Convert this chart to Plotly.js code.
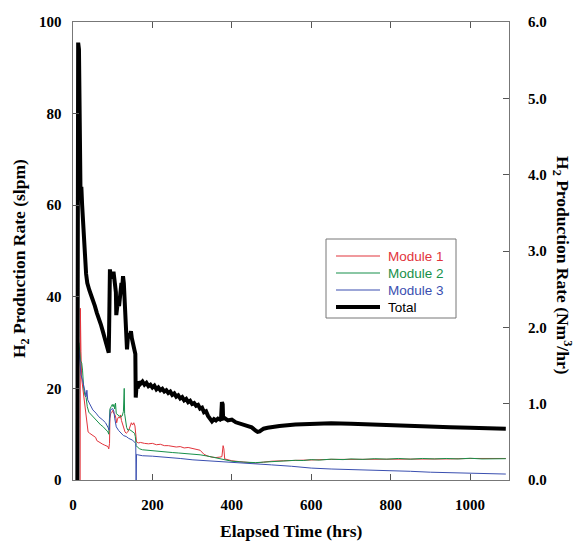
<!DOCTYPE html>
<html>
<head>
<meta charset="utf-8">
<script src="https://cdn.plot.ly/plotly-3.0.1.min.js"></script>
<style>html,body{margin:0;padding:0;background:#fff;}#chart{width:582px;height:542px;}</style>
</head>
<body>
<div id="chart"></div>
<script>
// ---- data ----
const seriesNames = ["Module 1", "Module 2", "Module 3", "Total"];

const hoursM1 = [18,18.5,20,22,24,27,30,33,36,38,42,46,50,54,57,60,63,66,70,75,80,85,88,90,92,93,95,98,100,103,106,108,110,112,115,118,120,122,125,128,131,134,138,141,144,147,150,153,156,158,160,165,170,180,190,200,210,220,230,240,250,260,270,280,290,300,310,320,330,340,350,360,370,375,378,380,382,390,400,420,440,460,480,500,530,560,600,650,700,750,800,850,900,950,1000,1050,1090];
const module1 = [0,37.5,28,22,20.5,18,16,13.5,11.5,10.5,10.2,10,9.8,9.5,9.3,8.6,8.4,8.2,8,7.8,7.6,7.5,7.3,6.8,8,13.5,14.5,14.8,15.2,14.5,14.2,13.5,12.5,13.3,13.8,13.5,14.2,13,12,11,10.5,10.2,10.5,11,12,12.5,12,12.5,11.8,9,8.3,8.1,8.2,8,7.9,8,7.7,7.8,7.5,7.5,7.3,7.2,7.3,7,7.1,6.9,6.8,6.5,5.6,5.2,5,4.9,5,5.1,7.5,6.8,4.6,4.4,4.2,4,3.8,3.7,3.9,4.1,4.2,4.3,4.4,4.5,4.5,4.5,4.6,4.6,4.6,4.6,4.7,4.7,4.7];

const hoursM2 = [15,17,19,22,24,27,30,33,36,40,45,50,55,60,65,70,75,80,85,88,90,91,93,96,99,101,103,105,107,109,112,116,120,124,127,129,130,132,135,138,142,146,150,155,157,159,162,168,175,185,200,215,230,250,265,280,300,320,340,360,380,400,430,460,480,500,520,540,560,580,600,620,650,680,700,730,760,790,820,850,880,910,940,970,1000,1030,1060,1090];
const module2 = [30,28,26,25.5,24,20,18.5,18,16,14.8,14.3,14,13.5,13,12.5,12,11.7,11.2,10.8,10.5,10,13,15.5,16,16.5,16,16.5,15.5,16.8,14.5,14.2,14,13.8,14,15,20,14.5,13,11.5,10.9,11,10.8,10.6,10.2,9.5,7.5,7.2,6.8,6.6,6.5,6.4,6.3,6.2,6,5.9,5.8,5.6,5.5,5.2,4.8,4.5,4.1,3.9,3.8,3.9,4,4.15,4.1,4.3,4.25,4.45,4.35,4.55,4.45,4.6,4.5,4.65,4.55,4.7,4.55,4.7,4.6,4.7,4.6,4.75,4.6,4.7,4.65];

const hoursM3 = [15,17,20,24,28,31,33,35,37,41,46,50,58,65,75,82,88,91,92,94,100,103,105,109,115,121,127,134,140,150,156,158,159,160,163,175,200,218,250,270,302,340,386,430,470,500,550,600,650,700,750,800,850,900,950,1000,1050,1090];
const module3 = [28.5,26,23,21.8,20,18.5,18.2,19.6,17.5,16.8,16,15.3,14.6,13.8,13.1,12.5,11.5,10.9,12.5,15.3,15.6,15,13.5,11.6,10.8,10.2,9.7,9.5,9.1,8.7,8.3,8,0,5.6,5.5,5.3,5.2,5.1,4.9,4.7,4.4,4.2,4,3.7,3.6,3.3,3,2.6,2.4,2.3,2.1,2,1.9,1.7,1.6,1.5,1.4,1.3];

const hoursTotal = [11,12,13,15,16,17,18,19,20,21,23,25,27,29,31,33,36,38,41,45,50,55,60,65,70,75,80,85,88,90,91,92,93,95,98,100,102,104,106,108,109,111,113,116,118,120,122,124,126,128,130,132,134,136,138,140,143,146,148,150,153,155,157,158,160,163,166,170,175,180,185,190,195,200,205,210,215,220,225,230,235,240,245,250,255,260,265,270,275,280,285,290,295,300,305,310,315,320,325,330,335,340,345,350,355,360,365,370,373,375,377,378,382,390,400,410,420,430,440,450,460,465,470,480,490,500,520,560,600,650,700,750,800,850,900,950,1000,1050,1090];
const total = [0,94,95.5,94,88,80,70,62,67,64,60,56,52,50,48,45,43,42,41.5,40.5,39.5,38,36.5,35.5,34,32.5,31,29.5,28.5,27.8,33,42,46,44,45,44,45.5,44,43,41,36,37,39,38,40,41,43,42,44.5,43,38,35,30,28.5,31,32,31,32.5,31,30,29,28,27.5,18,20.5,20,21.5,21,21.5,20.8,21.2,20.5,20.8,20.2,20.6,19.8,20.2,19.6,19.9,19.3,19.6,19,19.3,18.6,18.9,18.2,18.5,17.8,18.1,17.4,17.7,17,17.3,16.6,16.8,16.2,16.4,15.6,15.8,14.8,15,14,13.5,12.8,13.3,13,13.4,13.2,13.6,17,16.5,13.4,13.5,13,13.2,12.6,12.3,12,11.8,11.5,10.8,10.5,10.6,11.2,11.4,11.6,11.8,12.1,12.3,12.4,12.3,12.1,11.9,11.8,11.6,11.5,11.4,11.3,11.2];

const SLPM_TO_NM3H = 0.06; // 1 slpm = 0.06 Nm3/hr

const xTicks = [0,200,400,600,800,1000];
const yTicksLeft = [0,20,40,60,80,100];
const yTicksRight = [0,1,2,3,4,5,6];

// ---- styling / geometry ----
const W = 582, H = 542;
const M = {l: 73, r: 73, t: 22, b: 62};
const plotW = W - M.l - M.r, plotH = H - M.t - M.b;
const px2x = px => (px - M.l) / plotW;
const py2y = py => (H - M.b - py) / plotH;

const colors = ["#e2343c", "#17904a", "#3a4fb0", "#000000"];
const widths = [1, 1, 1, 4];
const serif = "Liberation Serif, Times New Roman, serif";
const sans = "Liberation Sans, Arial, sans-serif";
const tickFont = {family: serif, size: 15, color: "#000", weight: "bold"};
const titleFont = {family: serif, size: 17.5, color: "#000", weight: "bold"};
const NB = "\u00a0";

// legend box (drawn by hand so that its rows match the reference)
const LEG = {left: 326, top: 239, right: 456, lineX0: 336, lineX1: 380, textX: 386, row0: 256, rowStep: 17, pad: 11, fontSize: 13.5};

const traces = [
  {x: hoursM1, y: module1, type: "scatter", mode: "lines", name: seriesNames[0], line: {color: colors[0], width: widths[0]}},
  {x: hoursM2, y: module2, type: "scatter", mode: "lines", name: seriesNames[1], line: {color: colors[1], width: widths[1]}},
  {x: hoursM3, y: module3, type: "scatter", mode: "lines", name: seriesNames[2], line: {color: colors[2], width: widths[2]}},
  {x: hoursTotal, y: total, type: "scatter", mode: "lines", name: seriesNames[3], line: {color: colors[3], width: widths[3]}},
  // same total expressed in Nm3/hr on the right axis (invisible; carries the right scale and inside x ticks)
  {x: hoursTotal, y: total.map(v => v * SLPM_TO_NM3H), type: "scatter", mode: "lines", xaxis: "x2", yaxis: "y2",
   line: {color: "rgba(0,0,0,0)", width: 0}, showlegend: false, hoverinfo: "skip"}
];

const shapes = [];
const annotations = [];
const legBottom = LEG.row0 + LEG.rowStep * (seriesNames.length - 1) + LEG.pad;
shapes.push({type: "rect", xref: "paper", yref: "paper",
  x0: px2x(LEG.left), x1: px2x(LEG.right), y0: py2y(legBottom), y1: py2y(LEG.top),
  line: {color: "#777", width: 1}, fillcolor: "#fff", layer: "above"});
seriesNames.forEach((name, i) => {
  const py = LEG.row0 + LEG.rowStep * i;
  shapes.push({type: "line", xref: "paper", yref: "paper",
    x0: px2x(LEG.lineX0), x1: px2x(LEG.lineX1), y0: py2y(py), y1: py2y(py),
    line: {color: colors[i], width: widths[i] === 1 ? 1.2 : widths[i]}, layer: "above"});
  annotations.push({text: name, xref: "paper", yref: "paper", x: px2x(LEG.textX), y: py2y(py),
    xanchor: "left", yanchor: "middle", showarrow: false,
    font: {family: sans, size: LEG.fontSize, color: i === 3 ? "#000" : colors[i]}});
});

annotations.push(
  {text: "Elapsed Time (hrs)", xref: "paper", yref: "paper", x: 0.5, y: 0, yshift: -51,
   xanchor: "center", yanchor: "middle", showarrow: false, font: titleFont},
  {text: "H<sub>2</sub> Production Rate (slpm)", xref: "paper", yref: "paper", x: 0, y: 0.5, xshift: -53, yshift: -8,
   xanchor: "center", yanchor: "middle", textangle: -90, showarrow: false, font: titleFont},
  {text: "H<sub>2</sub> Production Rate (Nm<sup>3</sup>/hr)", xref: "paper", yref: "paper", x: 1, y: 0.5, xshift: 54, yshift: -14,
   xanchor: "center", yanchor: "middle", textangle: 90, showarrow: false, font: titleFont}
);

const layout = {
  width: W, height: H, margin: M,
  paper_bgcolor: "#fff", plot_bgcolor: "#fff",
  showlegend: false,
  xaxis: {
    range: [0, 1098], tickvals: xTicks, ticktext: xTicks.map(String),
    ticks: "outside", ticklen: 11, tickcolor: "rgba(0,0,0,0)",
    showline: true, linecolor: "#777", linewidth: 1, mirror: true,
    showgrid: false, zeroline: false, tickfont: tickFont
  },
  xaxis2: {
    range: [0, 1098], overlaying: "x", anchor: "y", tickvals: xTicks, showticklabels: false,
    ticks: "inside", ticklen: 6, tickcolor: "#555", tickwidth: 1, mirror: "ticks",
    showline: false, showgrid: false, zeroline: false
  },
  yaxis: {
    range: [0, 100], tickvals: yTicksLeft, ticktext: yTicksLeft.map(v => v + NB + NB),
    ticks: "inside", ticklen: 6, tickcolor: "#555", tickwidth: 1,
    showline: true, linecolor: "#777", linewidth: 1, mirror: false,
    showgrid: false, zeroline: false, tickfont: tickFont
  },
  yaxis2: {
    range: [0, 6], overlaying: "y", side: "right", anchor: "x",
    tickvals: yTicksRight, ticktext: yTicksRight.map(v => NB + NB + NB + NB + v.toFixed(1)),
    ticks: "inside", ticklen: 6, tickcolor: "#555", tickwidth: 1,
    showline: true, linecolor: "#777", linewidth: 1,
    showgrid: false, zeroline: false, tickfont: tickFont
  },
  shapes: shapes,
  annotations: annotations
};

Plotly.newPlot("chart", traces, layout, {displayModeBar: false, staticPlot: true});
</script>
</body>
</html>
